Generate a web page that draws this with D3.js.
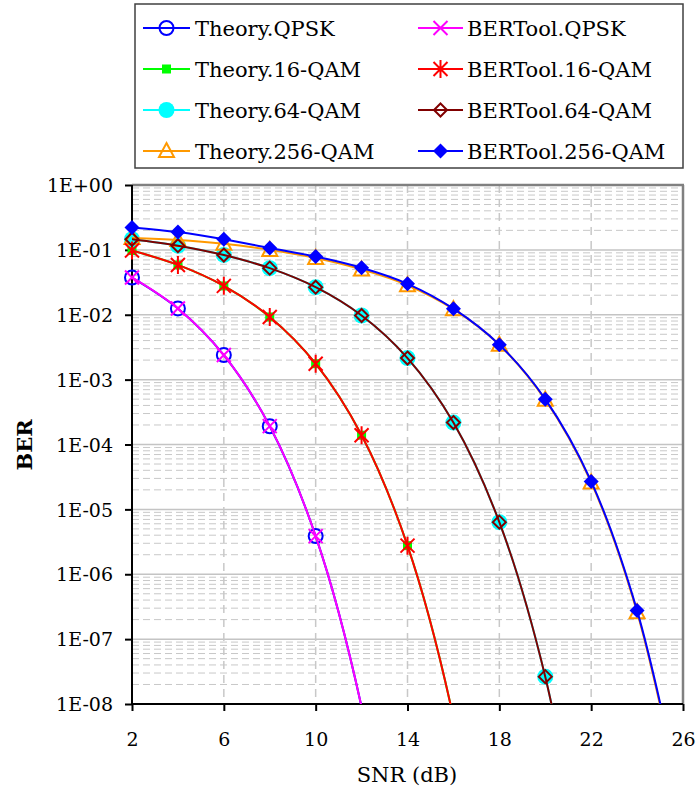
<!DOCTYPE html>
<html><head><meta charset="utf-8">
<script src="https://cdn.jsdelivr.net/npm/d3@7"></script>
<style>body{margin:0;background:#fff}svg{display:block}svg text{font-family:"DejaVu Serif",serif !important;fill:#000}</style>
</head><body><svg id="c" width="696" height="795"></svg>
<script>
const snr = [2,4,6,8,10,12,14,16,18,20,22,24,26];
const theoryQPSK   = [3.75e-2,1.25e-2,2.39e-3,1.91e-4,3.87e-6,9.0e-9,6.8e-13,null,null,null,null,null,null];
const theory16QAM  = [9.76e-2,5.86e-2,2.78e-2,9.24e-3,1.76e-3,1.39e-4,2.76e-6,6.2e-9,4.7e-13,null,null,null,null];
const theory64QAM  = [0.146,0.116,0.0835,0.0523,0.0266,9.73e-3,2.15e-3,2.18e-4,6.36e-6,2.64e-8,5.0e-12,null,null];
const theory256QAM = [0.152,0.142,0.124,0.100,0.075,0.050,0.0285,0.0122,3.45e-3,4.9e-4,2.6e-5,2.6e-7,2.2e-10];
const bertQPSK     = [3.76e-2,1.25e-2,2.39e-3,1.92e-4,3.87e-6,9.0e-9,6.8e-13,null,null,null,null,null,null];
const bert16QAM    = [9.76e-2,5.86e-2,2.79e-2,9.25e-3,1.76e-3,1.39e-4,2.76e-6,6.2e-9,4.7e-13,null,null,null,null];
const bert64QAM    = [0.146,0.116,0.0832,0.0523,0.0266,9.74e-3,2.15e-3,2.18e-4,6.36e-6,2.64e-8,5.0e-12,null,null];
const bert256QAM   = [0.222,0.188,0.146,0.107,0.079,0.053,0.030,0.0124,3.45e-3,5.0e-4,2.7e-5,2.75e-7,2.5e-10];
const seriesNames = ["Theory.QPSK","Theory.16-QAM","Theory.64-QAM","Theory.256-QAM","BERTool.QPSK","BERTool.16-QAM","BERTool.64-QAM","BERTool.256-QAM"];
const seriesColors = ["#0000ff","#00ff00","#00ffff","#ff9900","#ff00ff","#ff0000","#800000","#0000ff"];
const seriesMarkers = ["circleOpen","square","circleFill","triangleOpen","x","star","diamondOpen","diamondFill"];
const xTicks = [2,6,10,14,18,22,26];
const yTickLabels = ["1E+00","1E-01","1E-02","1E-03","1E-04","1E-05","1E-06","1E-07","1E-08"];
const allValues = [theoryQPSK,theory16QAM,theory64QAM,theory256QAM,bertQPSK,bert16QAM,bert64QAM,bert256QAM];

const FONT = '"DejaVu Serif", serif';
const svg = d3.select("#c");
const L=132,R=683,T=185,B=704;
const x = d3.scaleLinear().domain([2,26]).range([L,R]);
const y = d3.scaleLog().domain([1e-8,1]).range([B,T]);

// grid
const g = svg.append("g");
const minor=[];
for(let e=-8;e<0;e++) for(let k=2;k<=9;k++) minor.push(k*Math.pow(10,e));
g.selectAll(".mn").data(minor).join("line").attr("x1",L).attr("x2",R)
 .attr("y1",d=>y(d)).attr("y2",d=>y(d)).attr("stroke","#c8c8c8").attr("stroke-width",1).attr("stroke-dasharray","7,4");
const decades = d3.range(0,9).map(i=>Math.pow(10,-i));
g.selectAll(".mj").data(decades.slice(1,8)).join("line").attr("x1",L).attr("x2",R)
 .attr("y1",d=>y(d)).attr("y2",d=>y(d)).attr("stroke","#c4c4c4").attr("stroke-width",1.5);
g.selectAll(".vx").data(xTicks.slice(1,6)).join("line").attr("y1",T).attr("y2",B)
 .attr("x1",d=>x(d)).attr("x2",d=>x(d)).attr("stroke","#c8c8c8").attr("stroke-width",1.5).attr("stroke-dasharray","8,6");
svg.append("line").attr("x1",L).attr("x2",R+1).attr("y1",T).attr("y2",T).attr("stroke","#808080").attr("stroke-width",2.5);
svg.append("line").attr("x1",R).attr("x2",R).attr("y1",T).attr("y2",B).attr("stroke","#808080").attr("stroke-width",2.5);

// axes
const xAxis = d3.axisBottom(x).tickValues(xTicks).tickSize(7).tickFormat(d3.format("d"));
const ax = svg.append("g").attr("transform",`translate(0,${B})`).call(xAxis).attr("font-family",FONT);
ax.select(".domain").attr("stroke","#000").attr("stroke-width",2).attr("d",`M${L},0H${R}`);
ax.selectAll(".tick line").attr("stroke","#000").attr("stroke-width",2);
ax.selectAll(".tick text").style("font-family",FONT).attr("font-size",19).attr("dy","0").attr("y",42);
const yAxis = d3.axisLeft(y).tickValues(decades).tickSize(7).tickFormat((d,i)=>yTickLabels[i]);
const ay = svg.append("g").attr("transform",`translate(${L},0)`).call(yAxis).attr("font-family",FONT);
ay.select(".domain").attr("stroke","#000").attr("stroke-width",2).attr("d",`M0,${T}V${B}`);
ay.selectAll(".tick line").attr("stroke","#000").attr("stroke-width",2);
ay.selectAll(".tick text").style("font-family",FONT).attr("font-size",19).attr("x",-19).attr("dy","0.35em");
svg.selectAll(".domain").attr("fill","none");

svg.append("text").style("font-family",FONT).attr("x",407).attr("y",782).attr("text-anchor","middle").attr("font-size",21).text("SNR (dB)");
svg.append("text").style("font-family",FONT).attr("transform","translate(32,445) rotate(-90)").attr("text-anchor","middle").attr("font-size",21).attr("font-weight","bold").text("BER");

svg.append("defs").append("clipPath").attr("id","pc").append("rect").attr("x",L).attr("y",T).attr("width",R-L).attr("height",B-T);

function drawMarker(sel,type,color){
  const s=7;
  if(type==="circleOpen") sel.append("circle").attr("r",7).attr("fill","none").attr("stroke",color).attr("stroke-width",2);
  else if(type==="circleFill") sel.append("circle").attr("r",8).attr("fill",color);
  else if(type==="square") sel.append("rect").attr("x",-4.5).attr("y",-4.5).attr("width",9).attr("height",9).attr("fill",color);
  else if(type==="triangleOpen") sel.append("path").attr("d","M0,-8L7.5,6L-7.5,6Z").attr("fill","none").attr("stroke",color).attr("stroke-width",2);
  else if(type==="x") sel.append("path").attr("d",`M${-s},${-s}L${s},${s}M${-s},${s}L${s},${-s}`).attr("stroke",color).attr("stroke-width",2);
  else if(type==="star") sel.append("path").attr("d",`M${-s},${-s}L${s},${s}M${-s},${s}L${s},${-s}M0,-9V9`).attr("stroke",color).attr("stroke-width",2);
  else if(type==="diamondOpen") sel.append("path").attr("d","M0,-6.5L6.5,0L0,6.5L-6.5,0Z").attr("fill","none").attr("stroke",color).attr("stroke-width",2);
  else if(type==="diamondFill") sel.append("path").attr("d","M0,-7.5L7.5,0L0,7.5L-7.5,0Z").attr("fill",color);
}

const line = d3.line().defined(d=>d[1]!=null).x(d=>x(d[0])).y(d=>y(d[1])).curve(d3.curveCatmullRom.alpha(0.5));
const plot = svg.append("g");
allValues.forEach((vals,i)=>{
  const pts = snr.map((s,j)=>[s,vals[j]]).filter(d=>d[1]!=null);
  const sg = plot.append("g");
  sg.append("path").datum(pts).attr("clip-path","url(#pc)").attr("d",line).attr("fill","none").attr("stroke",seriesColors[i]).attr("stroke-width",2);
  pts.filter(d=>d[1]>=1e-8).forEach(d=>{
    const m = sg.append("g").attr("transform",`translate(${x(d[0])},${y(d[1])})`);
    drawMarker(m,seriesMarkers[i],seriesColors[i]);
  });
});

// legend
const lg = svg.append("g");
lg.append("rect").attr("x",135).attr("y",4).attr("width",548).attr("height",164).attr("fill","#fff").attr("stroke","#404040").attr("stroke-width",1.5);
const rows=[28,69,110,151], cols=[{x0:143,x1:190,tx:195},{x0:418,x1:463,tx:467}];
seriesNames.forEach((n,i)=>{
  const c=cols[Math.floor(i/4)], r=rows[i%4];
  lg.append("line").attr("x1",c.x0).attr("x2",c.x1).attr("y1",r).attr("y2",r).attr("stroke",seriesColors[i]).attr("stroke-width",2);
  const m=lg.append("g").attr("transform",`translate(${(c.x0+c.x1)/2},${r})`);
  drawMarker(m,seriesMarkers[i],seriesColors[i]);
  lg.append("text").style("font-family",FONT).attr("x",c.tx).attr("y",r).attr("dy","0.36em").attr("font-size",21).text(n);
});
</script></body></html>
